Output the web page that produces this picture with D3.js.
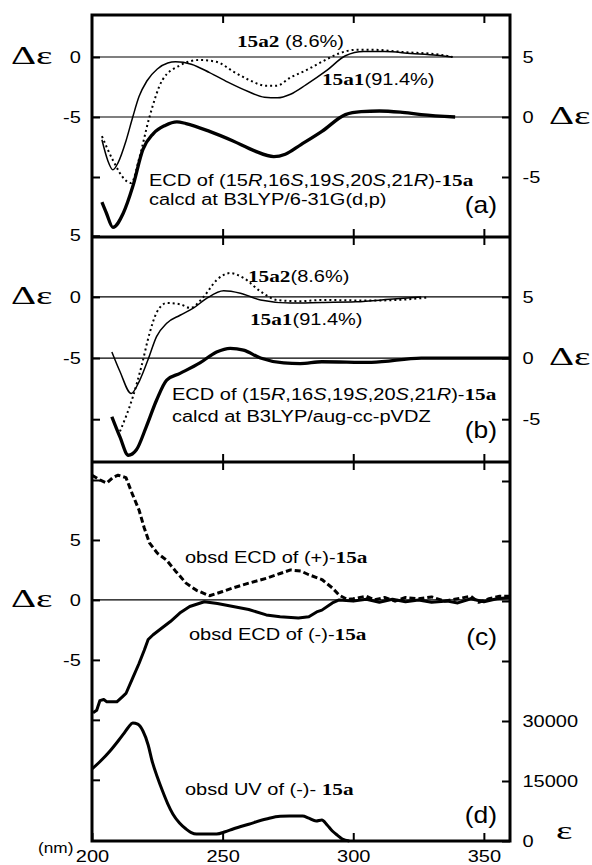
<!DOCTYPE html>
<html lang="en">
<head>
<meta charset="UTF-8">
<title>ECD / UV of 15a</title>
<script src="https://d3js.org/d3.v7.min.js"></script>
<style>
  body { margin: 0; background: #fff; }
  .tick line { stroke: #000; stroke-width: 2px; }
  .tick text { font-family: "Liberation Sans", Arial, sans-serif; font-size: 16px; fill: #000; }
  .domain { display: none; }
</style>
</head>
<body>
<div id="chart"></div>
<script>
// ---- data: [wavelength nm, value] ----
// (a) B3LYP/6-31G(d,p)
var a_15a1 = [[203.8,-6.9],[206,-8.6],[208,-9.4],[210,-8.8],[213,-7],[215.6,-5],[218,-3.3],[221,-2],[225,-1],[229,-0.5],[232,-0.4],[238,-0.6],[245,-1.3],[252,-2.1],[260,-2.9],[266,-3.35],[271,-3.4],[276,-3.1],[282,-2.3],[290,-1.1],[297,0.1],[304,0.45],[312,0.45],[322,0.3],[332,0.15],[338,0]];
var a_15a2 = [[203.8,-6.6],[208,-8.6],[213,-10.3],[215,-10.5],[218,-8.5],[222,-5],[227,-1.9],[233.6,-0.7],[241,-0.25],[247.6,-0.4],[254,-1.2],[260,-1.9],[266.7,-2.4],[270.6,-2.4],[276,-1.7],[282,-1.1],[288,-0.4],[294.6,0.3],[301,0.6],[307.5,0.6],[320,0.4],[333,0.2],[338,0]];
var a_total = [[203.8,-7.1],[205.5,-8],[208,-9.2],[212,-8],[215.6,-5.8],[219.5,-2.7],[223.4,-1.4],[228,-0.7],[232.5,-0.4],[236,-0.55],[245,-1.2],[254,-2],[262,-2.8],[269.6,-3.3],[274,-3.1],[280,-2.3],[288,-1.2],[297,0.2],[303,0.45],[310,0.5],[318,0.4],[326,0.2],[339,0]];

// (b) B3LYP/aug-cc-pVDZ
var b_15a1 = [[207.6,-4.5],[210.7,-6.1],[215,-7.9],[218.3,-6.8],[221.5,-5.1],[224.7,-3.25],[228.6,-2.15],[233.7,-1.5],[238.9,-0.9],[244,-0.1],[250.4,0.5],[256.8,0.3],[264.5,-0.25],[276,-0.5],[288,-0.45],[301,-0.4],[314,-0.2],[326,0]];
var b_15a2 = [[210.7,-11],[215.6,-8.2],[218.9,-5.7],[222,-3],[224.7,-1.3],[228.6,-0.5],[233.7,-0.6],[237.6,-0.9],[242.7,0],[247.8,1.4],[252.9,1.95],[258,1.55],[264.5,0.45],[270.8,-0.25],[279.7,-0.35],[288,-0.25],[307,-0.3],[326,-0.1],[329,0]];
var b_total = [[207.6,-4.8],[210.7,-6.45],[213.9,-7.95],[217,-7.5],[220.8,-5.6],[224.7,-3.45],[228.6,-1.8],[233.7,-1.25],[241.3,-0.4],[247.7,0.5],[252.9,0.8],[258,0.65],[264.5,0],[273.4,-0.4],[279.7,-0.45],[288,-0.3],[307,-0.35],[326,0],[360,0]];

// (c) observed ECD
var c_plus = [[200,10.4],[203,10],[205.7,9.75],[208,10.2],[210,10.4],[213,10.2],[215.5,8.8],[218,7.5],[220,6],[222,4.75],[225,3.9],[228.6,3.3],[232,2.4],[236,1.4],[240,0.8],[245,0.35],[250,0.7],[254,1],[260,1.4],[266.7,1.8],[272,2.2],[276,2.5],[280,2.4],[283,2.1],[288,1.7],[292,1],[294.6,0.4],[297.7,0.05],[300,0.1],[305,0.3],[308,0],[312,0.2],[316,-0.1],[320,0.2],[325,0.1],[330,0.25],[335,-0.1],[340,0.1],[345,0.3],[348,-0.2],[352,0.1],[356,0.3],[360,0.3]];
var c_minus = [[200.4,-9.4],[201.8,-9.2],[203,-8.4],[204.5,-8.3],[205.7,-8.5],[209.5,-8.5],[211.5,-8.1],[213,-7.8],[215.6,-6.5],[218,-5.3],[220,-4.2],[221.5,-3.3],[223.4,-2.9],[227,-2.3],[230,-1.8],[233.6,-1.1],[237.4,-0.55],[243,-0.15],[248,-0.3],[254,-0.55],[260,-0.8],[266.7,-1.25],[272,-1.4],[279,-1.5],[283,-1.4],[286,-1],[288,-0.85],[292,-0.25],[294.6,0],[300,-0.1],[305,0.05],[310,-0.2],[315,0.05],[320,-0.15],[325,0],[330,-0.2],[336,-0.1],[340,-0.25],[345,0.1],[350,-0.15],[355,0.1],[360,0.2]];

// (d) observed UV, epsilon
var d_uv = [[200,18000],[203,19800],[206.9,22500],[210,25000],[212,26700],[214,28500],[215.6,29500],[217.5,29200],[219.5,27500],[221.5,24000],[223,20000],[225,16000],[227,12500],[229,9300],[231,6700],[233.5,4500],[236,3000],[238,2100],[240,1750],[247.7,1750],[251,2300],[254,3000],[260,4200],[266.7,5500],[272,6200],[275.6,6250],[280.6,6250],[283,5700],[285.8,5000],[288,5250],[290,4000],[292,2500],[294,1400],[295.8,500],[298.5,0]];

var xTicks = [200, 250, 300, 350];

var sans = '"Liberation Sans", Arial, sans-serif';
var serif = '"Liberation Serif", "Times New Roman", serif';

var width = 592, height = 865;
var L = 92, R = 510;

var svg = d3.select("#chart").append("svg")
    .attr("width", width)
    .attr("height", height);

var x = d3.scaleLinear().domain([200, 360]).range([L, R]);

// y scales, one pair per panel (right one is shifted by 5 for the summed curve)
var yA = d3.scaleLinear().domain([-15, 3.5]).range([237, 15]);
var yA2 = d3.scaleLinear().domain([-10, 8.5]).range([237, 15]);
var yB = d3.scaleLinear().domain([-13.5, 4.9]).range([462, 237]);
var yB2 = d3.scaleLinear().domain([-8.5, 9.9]).range([462, 237]);
var yC = d3.scaleLinear().domain([-20.1, 11.5]).range([841, 462]);
var yD = d3.scaleLinear().domain([0, 94750]).range([841, 462]);

// zero lines
[yA(0), yA2(0), yB(0), yB2(0), yC(0)].forEach(function(y) {
  svg.append("line").attr("x1", L).attr("x2", R).attr("y1", y).attr("y2", y)
    .attr("stroke", "#000").attr("stroke-width", 1.2);
});

function draw(data, y, w, dash, smooth) {
  var line = d3.line()
      .x(function(d) { return x(d[0]); })
      .y(function(d) { return y(d[1]); })
      .curve(smooth ? d3.curveMonotoneX : d3.curveLinear);
  svg.append("path").datum(data)
    .attr("d", line)
    .attr("fill", "none")
    .attr("stroke", "#000")
    .attr("stroke-width", w)
    .attr("stroke-linejoin", "round")
    .attr("stroke-dasharray", dash);
}

draw(a_15a1, yA, 1.5, null, true);
draw(a_15a2, yA, 2, "2,3", true);
draw(a_total, yA2, 3.3, null, true);
draw(b_15a1, yB, 1.5, null, true);
draw(b_15a2, yB, 2, "2,3", true);
draw(b_total, yB2, 3.3, null, true);
draw(c_plus, yC, 3, "6,3", false);
draw(c_minus, yC, 3, null, false);
draw(d_uv, yD, 3, null, true);

// axes
function fmt(show) {
  return function(d) { return show.indexOf(d) >= 0 ? String(d) : ""; };
}
function stretch(g) {
  g.selectAll("text").attr("transform", "scale(1.25,1)");
}

svg.append("g").attr("transform", "translate(" + L + ",0)")
  .call(d3.axisLeft(yA).tickValues([0, -5, -10]).tickSize(-8).tickPadding(9).tickFormat(fmt([0, -5]))).call(stretch);
svg.append("g").attr("transform", "translate(" + R + ",0)")
  .call(d3.axisRight(yA2).tickValues([5, 0, -5]).tickSize(-8).tickPadding(10).tickFormat(fmt([5, 0, -5]))).call(stretch);
svg.append("g").attr("transform", "translate(" + L + ",0)")
  .call(d3.axisLeft(yB).tickValues([5, 0, -5, -10]).tickSize(-8).tickPadding(9).tickFormat(fmt([5, 0, -5]))).call(stretch);
svg.append("g").attr("transform", "translate(" + R + ",0)")
  .call(d3.axisRight(yB2).tickValues([5, 0, -5]).tickSize(-8).tickPadding(10).tickFormat(fmt([5, 0, -5]))).call(stretch);
svg.append("g").attr("transform", "translate(" + L + ",0)")
  .call(d3.axisLeft(yC).tickValues([10, 5, 0, -5, -10, -15]).tickSize(-8).tickPadding(9).tickFormat(fmt([5, 0, -5]))).call(stretch);
svg.append("g").attr("transform", "translate(" + R + ",0)")
  .call(d3.axisRight(yD).tickValues(d3.range(0, 90001, 15000)).tickSize(-8).tickPadding(10).tickFormat(fmt([0, 15000, 30000]))).call(stretch);

// x ticks on every panel border, pointing inside
[15, 237, 462].forEach(function(y) {
  svg.append("g").attr("transform", "translate(0," + y + ")")
    .call(d3.axisTop(x).tickValues(xTicks.slice(1)).tickSize(-8).tickFormat(""));
});
[237, 462].forEach(function(y) {
  svg.append("g").attr("transform", "translate(0," + y + ")")
    .call(d3.axisBottom(x).tickValues(xTicks.slice(1)).tickSize(-8).tickFormat(""));
});
svg.append("g").attr("transform", "translate(0,841)")
  .call(d3.axisBottom(x).tickValues(xTicks).tickSize(-8).tickPadding(10).tickFormat(fmt(xTicks))).call(stretch);

// frame and panel separators
svg.append("rect").attr("x", L).attr("y", 15).attr("width", R - L).attr("height", 841 - 15)
  .attr("fill", "none").attr("stroke", "#000").attr("stroke-width", 3);
[237, 462].forEach(function(y) {
  svg.append("line").attr("x1", L).attr("x2", R).attr("y1", y).attr("y2", y)
    .attr("stroke", "#000").attr("stroke-width", 3);
});

// text helper: parts are [text, kind]; kind "i" italic, "b" bold serif
function label(px, py, parts, size, anchor, sx) {
  var t = svg.append("text")
    .attr("transform", "translate(" + px + "," + py + ") scale(" + (sx || 1.25) + ",1)")
    .attr("text-anchor", anchor || "start")
    .style("font-family", sans)
    .style("font-size", (size || 16) + "px");
  parts.forEach(function(p) {
    var s = t.append("tspan").text(p[0]);
    if (p[1] == "i") s.style("font-style", "italic");
    if (p[1] == "b") s.style("font-family", serif).style("font-weight", "bold").style("font-size", (size || 16) + 1 + "px");
  });
}

var ecd = [["ECD of (15"], ["R", "i"], [",16"], ["S", "i"], [",19"], ["S", "i"], [",20"], ["S", "i"], [",21"], ["R", "i"], [")-"], ["15a", "b"]];

label(237, 47, [["15a2", "b"], [" (8.6%)"]]);
label(322, 85, [["15a1", "b"], ["(91.4%)"]]);
label(149, 186, ecd);
label(149, 205, [["calcd at B3LYP/6-31G(d,p)"]]);
label(497, 213, [["(a)"]], 23, "end", 1.15);

label(248, 282, [["15a2", "b"], ["(8.6%)"]]);
label(250, 325, [["15a1", "b"], ["(91.4%)"]]);
label(172, 400, ecd);
label(172, 422, [["calcd at B3LYP/aug-cc-pVDZ"]]);
label(497, 438, [["(b)"]], 23, "end", 1.15);

label(185, 563, [["obsd ECD of (+)-"], ["15a", "b"]]);
label(189, 640, [["obsd ECD of (-)-"], ["15a", "b"]]);
label(497, 645, [["(c)"]], 23, "end", 1.15);

label(185, 795, [["obsd UV of (-)- "], ["15a", "b"]]);
label(497, 823, [["(d)"]], 23, "end", 1.15);

label(38, 853, [["(nm)"]], 15, "start", 1.15);

// axis titles
function greek(px, py, s) {
  svg.append("text")
    .attr("transform", "translate(" + px + "," + py + ") scale(1.5,1)")
    .style("font-family", serif)
    .style("font-size", "26px")
    .text(s);
}
greek(11, yA(0) + 7, "\u0394\u03b5");
greek(11, yB(0) + 7, "\u0394\u03b5");
greek(11, yC(0) + 7, "\u0394\u03b5");
greek(549, yA2(0) + 7, "\u0394\u03b5");
greek(549, yB2(0) + 7, "\u0394\u03b5");
greek(556, 839, "\u03b5");
</script>
</body>
</html>
